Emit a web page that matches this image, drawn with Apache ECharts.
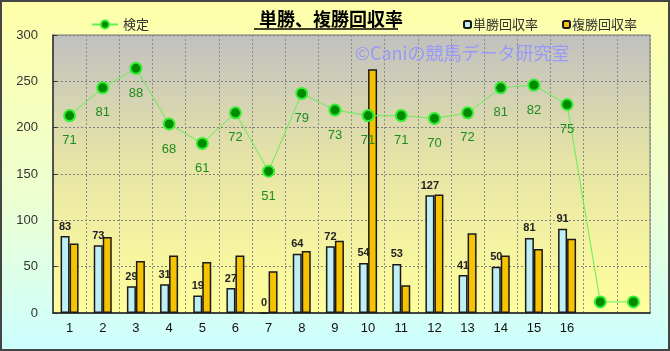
<!DOCTYPE html>
<html>
<head>
<meta charset="utf-8">
<script src="https://cdn.jsdelivr.net/npm/echarts@6/dist/echarts.min.js"></script>
<style>
  html, body { margin: 0; padding: 0; }
  #main { width: 670px; height: 351px; }
</style>
</head>
<body>
<div id="main"></div>
<script>
var categories = ['1', '2', '3', '4', '5', '6', '7', '8', '9', '10', '11', '12', '13', '14', '15', '16', '', ''];
var tanshoValues = [83, 73, 29, 31, 19, 27, 0, 64, 72, 54, 53, 127, 41, 50, 81, 91];
var fukushoValues = [75, 82, 56, 62, 55, 62, 45, 67, 78, 263, 30, 128, 86, 62, 69, 80];
var kenteiValues = [71, 81, 88, 68, 61, 72, 51, 79, 73, 71, 71, 70, 72, 81, 82, 75, 4, 4];
var kenteiLabelCount = 16;
var yTicks = [0, 50, 100, 150, 200, 250, 300];

var jpFont = '"Noto Sans CJK JP", sans-serif';
var numFont = '"Liberation Sans", Arial, sans-serif';

var myChart = echarts.init(document.getElementById('main'));

option = {
    animation: false,
    backgroundColor: new echarts.graphic.LinearGradient(0, 0, 0, 1, [
        { offset: 0, color: '#FFFFA8' },
        { offset: 0.55, color: '#EEFFD0' },
        { offset: 1, color: '#CCFFFF' }
    ]),
    title: {
        text: '単勝、複勝回収率',
        left: 254,
        top: 5,
        textStyle: { fontFamily: jpFont, fontSize: 18, fontWeight: 'bold', color: '#000' }
    },
    legend: [
        {
            data: ['検定'],
            left: 86,
            top: 13,
            itemWidth: 26,
            itemHeight: 10,
            textStyle: { fontFamily: jpFont, fontSize: 13, color: '#333' }
        },
        {
            data: ['単勝回収率', '複勝回収率'],
            left: 458,
            top: 13,
            itemWidth: 7,
            itemHeight: 7,
            itemGap: 24,
            textStyle: { fontFamily: jpFont, fontSize: 13, color: '#333', padding: [0, 0, 0, -3] }
        }
    ],
    graphic: [
        { type: 'rect', shape: { x: 1, y: 1, width: 668, height: 349 }, style: { fill: 'none', stroke: '#444', lineWidth: 2 }, z: 100 },
        { type: 'line', shape: { x1: 254, y1: 29, x2: 398, y2: 29 }, style: { stroke: '#000', lineWidth: 1.5 }, z: 100 },
        { type: 'text', left: 355, top: 44, style: { text: '©Caniの競馬データ研究室', fill: '#9999F8', fontSize: 18, fontFamily: jpFont }, z: 1 }
    ],
    grid: {
        left: 53,
        right: 20,
        top: 35,
        bottom: 38,
        show: true,
        borderColor: '#777',
        borderWidth: 1,
        backgroundColor: new echarts.graphic.LinearGradient(0, 0, 0, 1, [
            { offset: 0, color: '#C0C0C0' },
            { offset: 0.45, color: '#E6E4A6' },
            { offset: 1, color: '#FFFF9C' }
        ])
    },
    xAxis: {
        type: 'category',
        data: categories,
        axisLine: { lineStyle: { color: '#222', width: 1.5 } },
        axisTick: { show: false },
        axisLabel: { fontFamily: numFont, fontSize: 13, color: '#111', margin: 9 },
        splitLine: { show: true, lineStyle: { color: '#8a8a8a', type: [2, 2], width: 1 } }
    },
    yAxis: [
        {
            type: 'value',
            min: yTicks[0],
            max: yTicks[yTicks.length - 1],
            interval: 50,
            axisLine: { show: true, lineStyle: { color: '#333', width: 1.5 } },
            axisTick: { show: true, inside: true, length: 4, lineStyle: { color: '#333' } },
            axisLabel: { fontFamily: numFont, fontSize: 13, color: '#333', margin: 15 },
            splitLine: { show: true, lineStyle: { color: '#808080', type: [2, 2], width: 1 } }
        },
        {
            type: 'value',
            min: 0,
            max: 100,
            show: false,
            splitLine: { show: false }
        }
    ],
    series: [
        {
            name: '単勝回収率',
            type: 'bar',
            data: tanshoValues,
            barWidth: 9,
            barGap: '0%',
            itemStyle: { color: '#BDEFF5', borderColor: '#1a1a1a', borderWidth: 1.5 },
            label: {
                show: true,
                position: 'top',
                distance: 4,
                fontFamily: numFont,
                fontSize: 11,
                fontWeight: 'bold',
                color: '#222'
            },
            z: 3
        },
        {
            name: '複勝回収率',
            type: 'bar',
            data: fukushoValues,
            barWidth: 9,
            itemStyle: { color: '#F7C300', borderColor: '#1a1a1a', borderWidth: 1.5 },
            z: 2
        },
        {
            name: '検定',
            type: 'line',
            yAxisIndex: 1,
            data: kenteiValues,
            symbol: 'circle',
            symbolSize: 11,
            lineStyle: { color: '#66EE55', width: 1 },
            itemStyle: { color: '#008A00', borderColor: '#33EE33', borderWidth: 2 },
            label: {
                show: true,
                position: 'bottom',
                distance: 12,
                fontFamily: numFont,
                fontSize: 13,
                color: '#1E8C1E',
                formatter: function (p) {
                    return p.dataIndex < kenteiLabelCount ? p.value : '';
                }
            },
            z: 5
        }
    ]
};
myChart.setOption(option);
</script>
</body>
</html>
